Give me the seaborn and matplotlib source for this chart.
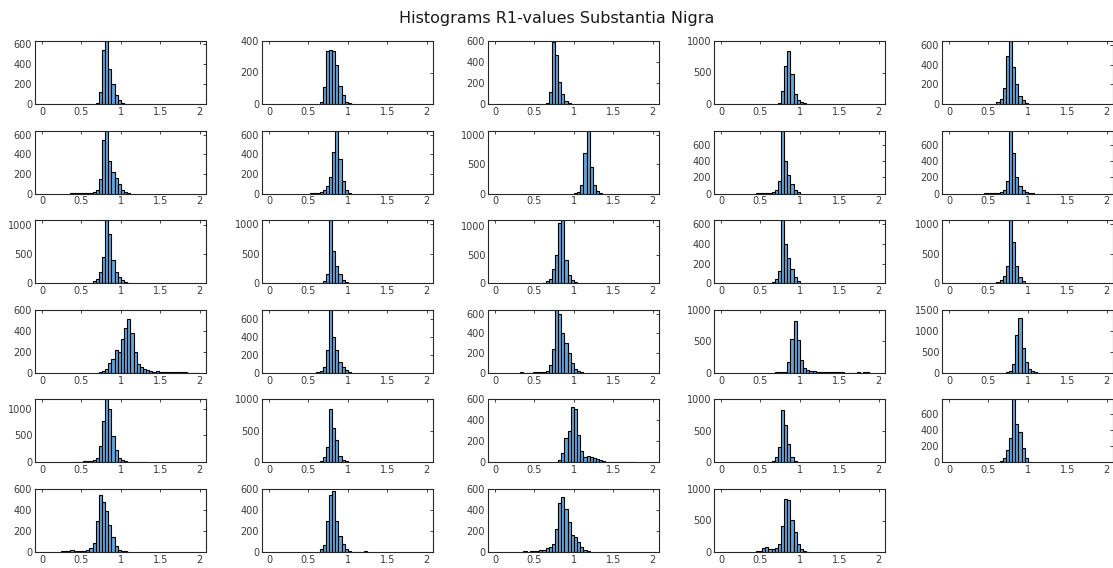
import numpy as np
import matplotlib
matplotlib.use("Agg")
import matplotlib.pyplot as plt
from matplotlib.ticker import MultipleLocator
import seaborn as sns

sns.set_theme(style="white")
plt.rcParams["font.family"] = ["DejaVu Sans"]

TITLE = "Histograms R1-values Substantia Nigra"
BIN_WIDTH = 0.04
x_ticks = [0, 0.5, 1, 1.5, 2]
x_tick_labels = ["0", "0.5", "1", "1.5", "2"]

# left edge of the first bin and counts per bin, one subject per panel
start_01 = 0.68; counts_01 = [8, 125, 545, 635, 355, 200, 95, 40, 10, 3]
start_02 = 0.64; counts_02 = [15, 110, 335, 340, 335, 245, 115, 55, 12, 5, 2]
start_03 = 0.64; counts_03 = [5, 115, 590, 470, 205, 95, 30, 8]
start_04 = 0.72; counts_04 = [20, 200, 600, 840, 480, 160, 70, 25, 8]
start_05 = 0.60; counts_05 = [20, 50, 160, 490, 640, 380, 200, 80, 40, 15]

start_06 = 0.36; counts_06 = [3, 3, 5, 3, 5, 5, 8, 15, 40, 150, 540, 640, 330, 220, 160, 100, 40, 15, 5]
start_07 = 0.52; counts_07 = [3, 5, 10, 20, 40, 80, 170, 420, 640, 350, 130, 40, 10]
start_08 = 1.00; counts_08 = [10, 30, 150, 700, 1080, 450, 150, 50, 15]
start_09 = 0.44; counts_09 = [5, 5, 8, 10, 10, 20, 50, 150, 780, 400, 230, 120, 50, 20]
start_10 = 0.44; counts_10 = [5, 5, 5, 8, 10, 15, 40, 150, 780, 500, 200, 90, 40, 15, 10, 5]

start_11 = 0.60; counts_11 = [10, 30, 80, 200, 450, 1080, 850, 400, 200, 100, 50, 20, 10]
start_12 = 0.64; counts_12 = [10, 40, 150, 1070, 550, 300, 150, 50, 20]
start_13 = 0.60; counts_13 = [10, 30, 80, 250, 500, 1050, 1100, 400, 150, 50, 20]
start_14 = 0.64; counts_14 = [10, 40, 120, 640, 400, 260, 140, 60, 20]
start_15 = 0.56; counts_15 = [10, 20, 50, 120, 300, 1070, 700, 300, 100, 40]

start_16 = 0.72; counts_16 = [5, 15, 40, 90, 130, 215, 200, 320, 430, 510, 375, 200, 85, 55, 40, 25,
                              15, 10, 15, 8, 5, 5, 4, 4, 3, 3, 3, 3, 2, 2, 2, 2]
start_17 = 0.60; counts_17 = [10, 20, 60, 250, 700, 400, 250, 120, 60, 30, 10]
start_18 = 0.32; counts_18 = [5, 3, 3, 3, 5, 5, 5, 8, 20, 80, 240, 640, 600, 400, 300, 200, 100, 40, 20, 10]
start_19 = 0.68; counts_19 = [5, 5, 8, 20, 165, 530, 820, 520, 210, 75, 50, 35, 25, 15, 10, 8,
                              8, 6, 6, 5, 5, 5, 4, 4, 3, 3, 10, 2, 10, 8, 3]
start_20 = 0.72; counts_20 = [10, 50, 200, 900, 1300, 600, 250, 100, 50, 20]

start_21 = 0.40; counts_21 = [5, 10, 15, 20, 20, 20, 40, 80, 300, 770, 1170, 990, 485, 225, 90, 50,
                              25, 15, 10, 12, 5, 10, 5]
start_22 = 0.60; counts_22 = [10, 20, 80, 250, 850, 550, 350, 100, 40, 20]
start_23 = 0.76; counts_23 = [5, 20, 90, 230, 300, 525, 510, 265, 110, 55, 60, 50, 40, 35, 25, 15,
                              8, 5, 5, 5, 5, 4, 3, 2, 8]
start_24 = 0.60; counts_24 = [10, 30, 80, 250, 830, 600, 300, 80, 20]
start_25 = 0.60; counts_25 = [10, 20, 50, 150, 300, 780, 480, 380, 180, 50, 10]

start_26 = 0.24; counts_26 = [5, 5, 5, 15, 8, 5, 5, 8, 15, 35, 85, 300, 540, 480, 390, 255, 140, 60,
                              20, 5, 5, 3]
start_27 = 0.64; counts_27 = [30, 70, 300, 540, 580, 300, 150, 80, 30, 10, 3, 3, 3, 3, 5]
start_28 = 0.36; counts_28 = [5, 3, 5, 5, 10, 15, 22, 40, 47, 78, 219, 470, 525, 412, 281, 162, 140,
                              94, 47, 22, 5]
start_29 = 0.44; counts_29 = [8, 15, 60, 75, 55, 55, 65, 120, 405, 840, 820, 510, 310, 130, 40, 10, 3]

starts = [start_01, start_02, start_03, start_04, start_05, start_06, start_07, start_08,
          start_09, start_10, start_11, start_12, start_13, start_14, start_15, start_16,
          start_17, start_18, start_19, start_20, start_21, start_22, start_23, start_24,
          start_25, start_26, start_27, start_28, start_29]
counts = [counts_01, counts_02, counts_03, counts_04, counts_05, counts_06, counts_07, counts_08,
          counts_09, counts_10, counts_11, counts_12, counts_13, counts_14, counts_15, counts_16,
          counts_17, counts_18, counts_19, counts_20, counts_21, counts_22, counts_23, counts_24,
          counts_25, counts_26, counts_27, counts_28, counts_29]

# upper y-limit of each panel
y_tops = [635, 400, 600, 1000, 640,
          640, 640, 1080, 780, 780,
          1080, 1070, 1100, 640, 1070,
          600, 700, 640, 1000, 1500,
          1170, 1000, 600, 1000, 780,
          600, 600, 600, 1000]

BAR_COLOR = "#66a3d6"
EDGE = "black"
FRAME = "#262626"
TEXT = "#3a3a3a"

W, H = 1113, 568
fig = plt.figure(figsize=(W / 100, H / 100), dpi=100)
fig.suptitle(TITLE, x=0.5, y=1 - 18 / H, va="center", fontsize=11.5, color="#1a1a1a")

ax_w, ax_h = 171, 63
col_left = [35, 262, 488, 714, 942]
row_top0, row_step = 41, 89.6

for i, (s, c) in enumerate(zip(starts, counts)):
    r, k = divmod(i, 5)
    top = row_top0 + r * row_step
    ax = fig.add_axes([col_left[k] / W, 1 - (top + ax_h) / H, ax_w / W, ax_h / H])
    n = len(c)
    centers = s + BIN_WIDTH * (np.arange(n) + 0.5)
    sns.histplot(x=centers, weights=c, binwidth=BIN_WIDTH,
                 binrange=(s, s + n * BIN_WIDTH), ax=ax,
                 color=BAR_COLOR, edgecolor=EDGE, linewidth=0.8, alpha=1.0)
    ax.set_xlim(-0.09, 2.08)
    ax.set_ylim(0, y_tops[i])
    ax.set_xticks(x_ticks)
    ax.set_xticklabels(x_tick_labels)
    ax.yaxis.set_major_locator(MultipleLocator(200 if y_tops[i] < 900 else 500))
    ax.set_xlabel("")
    ax.set_ylabel("")
    ax.tick_params(direction="in", length=2.5, width=0.6, colors=FRAME,
                   labelcolor=TEXT, labelsize=7, top=True, right=True, pad=2)
    for sp in ax.spines.values():
        sp.set_color(FRAME)
        sp.set_linewidth(0.8)
    ax.set_facecolor("white")

fig.savefig("out.png", dpi=100, facecolor="white")
